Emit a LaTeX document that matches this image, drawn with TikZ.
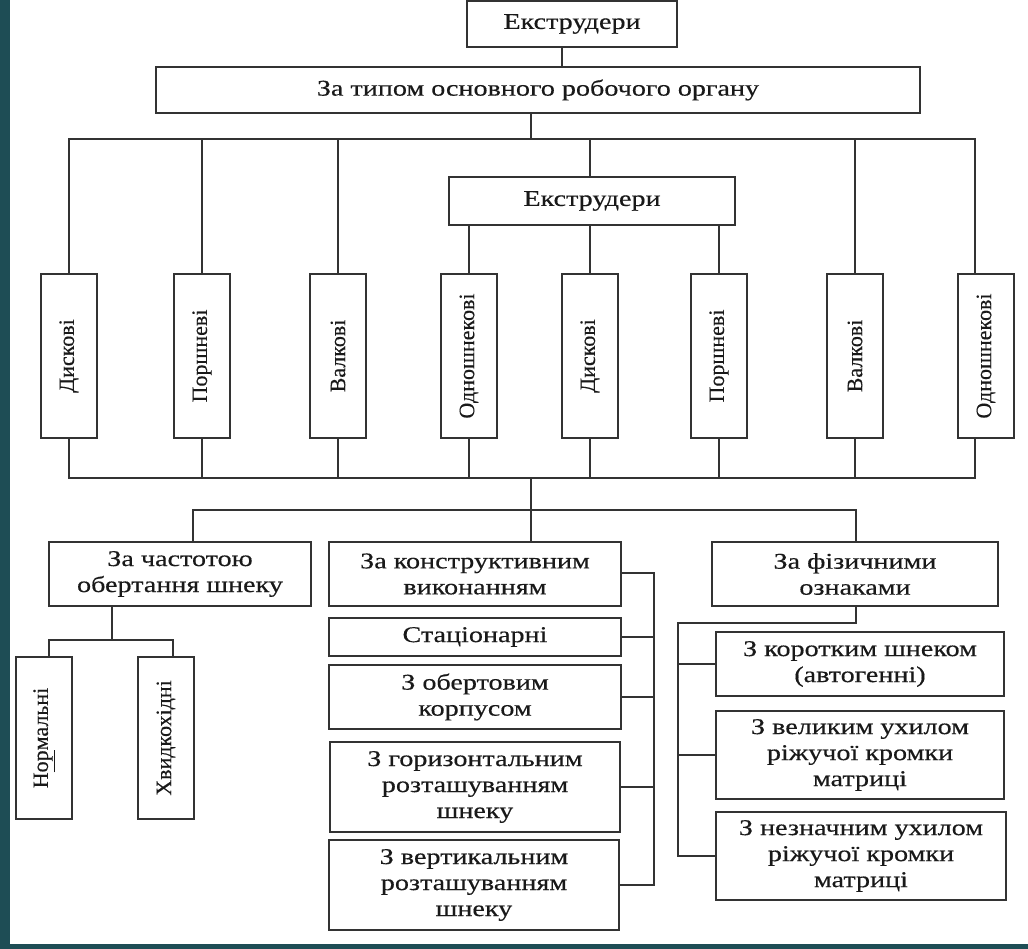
\documentclass[tikz,border=0pt]{standalone}
\usepackage{fontspec}
\setmainfont{Liberation Serif}
\newfontfamily\hfont[FakeStretch=1.25,FakeBold=0.4]{Liberation Serif}
\newfontfamily\vfont[FakeBold=0.3]{Liberation Serif}
\usetikzlibrary{calc}
\definecolor{tealbar}{HTML}{1E4D55}
\definecolor{linec}{HTML}{333333}
\begin{document}
\begin{tikzpicture}[x=1pt,y=-1pt,
  bx/.style={draw=linec, line width=1.8pt, fill=white, inner sep=0pt, align=center,
    text=black!90, font=\hfont\fontsize{22.5}{26}\selectfont},
  vbx/.style={draw=linec, line width=1.8pt, fill=white, inner sep=0pt,
    minimum width=56pt, minimum height=164pt, text=black!90, font=\vfont\fontsize{22}{24}\selectfont},
  ln/.style={draw=linec, line width=1.8pt}]
\useasboundingbox (0,0) rectangle (1028,949);
\fill[white] (0,0) rectangle (1028,949);
\fill[tealbar] (0,0) rectangle (10,949);
\fill[tealbar] (0,944) rectangle (1028,949);

% top
\node[bx, minimum width=210pt, minimum height=46pt] (top) at (572,24) {Екструдери};
\node[bx, minimum width=764pt, minimum height=46pt] (type) at (538,90) {За типом основного робочого органу};
\node[bx, minimum width=286pt, minimum height=48pt] (mid) at (592,201) {Екструдери};

% vertical boxes
\node[vbx] (v1) at (69,356) {\rotatebox{90}{Дискові}};
\node[vbx] (v2) at (202,356) {\rotatebox{90}{Поршневі}};
\node[vbx] (v3) at (338,356) {\rotatebox{90}{Валкові}};
\node[vbx] (v4) at (469,356) {\rotatebox{90}{Одношнекові}};
\node[vbx] (v5) at (590,356) {\rotatebox{90}{Дискові}};
\node[vbx] (v6) at (719,356) {\rotatebox{90}{Поршневі}};
\node[vbx] (v7) at (855,356) {\rotatebox{90}{Валкові}};
\node[vbx] (v8) at (986,356) {\rotatebox{90}{Одношнекові}};

% bottom row
\node[bx, minimum width=262pt, minimum height=64pt] (freq) at (180,574) {За частотою\\обертання шнеку};
\node[bx, minimum width=292pt, minimum height=64pt] (constr) at (475,574) {За конструктивним\\виконанням};
\node[bx, minimum width=286pt, minimum height=64pt] (phys) at (855,574) {За фізичними\\ознаками};

\node[vbx, minimum width=56pt, minimum height=162pt] (norm) at (44,738) {\rotatebox{90}{Н\underline{ор}мальні}};
\node[vbx, minimum width=56pt, minimum height=162pt] (fast) at (166,738) {\rotatebox{90}{Хвидкохідні}};

\node[bx, minimum width=292pt, minimum height=38pt] (stat) at (475,637) {Стаціонарні};
\node[bx, minimum width=292pt, minimum height=64pt] (rot) at (475,697) {З обертовим\\корпусом};
\node[bx, minimum width=290pt, minimum height=90pt] (hor) at (475,787) {З горизонтальним\\розташуванням\\шнеку};
\node[bx, minimum width=290pt, minimum height=90pt] (ver) at (474,885) {З вертикальним\\розташуванням\\шнеку};

\node[bx, minimum width=288pt, minimum height=64pt] (short) at (860,664) {З коротким шнеком\\(автогенні)};
\node[bx, minimum width=288pt, minimum height=88pt] (big) at (860,755) {З великим ухилом\\ріжучої кромки\\матриці};
\node[bx, minimum width=290pt, minimum height=88pt] (small) at (861,856) {З незначним ухилом\\ріжучої кромки\\матриці};

% junction coordinates
\coordinate (xa) at (562,0);
\coordinate (xb) at (531,0);
\coordinate (busT) at (0,139);
\coordinate (busB) at (0,478);
\coordinate (busC) at (0,510);
\coordinate (xr) at (975,0);
\coordinate (xf) at (112,0);
\coordinate (busF) at (0,640);
\coordinate (xn) at (49,0);
\coordinate (xh) at (173,0);
\coordinate (xl) at (193,0);
\coordinate (xp) at (856,0);
\coordinate (xc) at (654,0);
\coordinate (xq) at (678,0);
\coordinate (busP) at (0,623);

% top connectors
\draw[ln] (top.south -| xa) -- (type.north -| xa);
\draw[ln] (type.south -| xb) -- (busT -| xb);
\draw[ln] (v1.north) |- (busT -| xr) -- (v8.north -| xr);
\draw[ln] (v2.north) -- (busT -| v2.north);
\draw[ln] (v3.north) -- (busT -| v3.north);
\draw[ln] (mid.north -| v5.north) -- (busT -| v5.north);
\draw[ln] (v7.north) -- (busT -| v7.north);
\draw[ln] (mid.south -| v4.north) -- (v4.north);
\draw[ln] (mid.south -| v5.north) -- (v5.north);
\draw[ln] (mid.south -| v6.north) -- (v6.north);

% bottom bus
\draw[ln] (v1.south) |- (busB -| xr) -- (v8.south -| xr);
\foreach \v in {v2,v3,v4,v5,v6,v7}{\draw[ln] (\v.south) -- (busB -| \v.south);}
\draw[ln] (busB -| xb) -- (busC -| xb);
\draw[ln] (freq.north -| xl) |- (busC -| xp) -- (phys.north -| xp);
\draw[ln] (busC -| xb) -- (constr.north -| xb);

% frequency subtree
\draw[ln] (freq.south -| xf) -- (busF -| xf);
\draw[ln] (norm.north -| xn) |- (busF -| xh) -- (fast.north -| xh);

% construction subtree
\draw[ln] ([yshift=1pt]constr.east) -| (ver.east -| xc) -- (ver.east);
\draw[ln] (stat.east) -- (stat.east -| xc);
\draw[ln] (rot.east) -- (rot.east -| xc);
\draw[ln] (hor.east) -- (hor.east -| xc);

% physical subtree
\draw[ln] (phys.south -| xp) |- (busP -| xq) |- (small.west);
\draw[ln] (short.west) -- (short.west -| xq);
\draw[ln] (big.west) -- (big.west -| xq);
\end{tikzpicture}
\end{document}
